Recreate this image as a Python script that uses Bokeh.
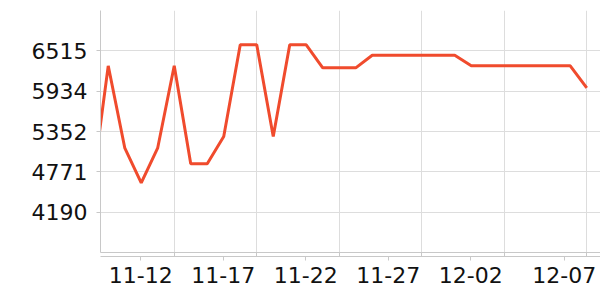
import pandas as pd
from bokeh.plotting import figure
from bokeh.models import Range1d, FixedTicker, ColumnDataSource, DatetimeAxis
from bokeh.embed import file_html
from bokeh.resources import INLINE

dates = list(pd.date_range("2023-11-07", "2023-12-07", freq="D"))
values = [4500, 6299, 5118, 4613, 5118, 6299, 4887, 4887, 5280, 6602,
          6602, 5280, 6602, 6602, 6270, 6270, 6270, 6452, 6452, 6452,
          6452, 6452, 6452, 6299, 6299, 6299, 6299, 6299, 6299, 6299,
          5982]
y_ticks = [4190, 4771, 5352, 5934, 6515]
x_tick_dates = ["2023-11-12", "2023-11-17", "2023-11-22", "2023-11-27", "2023-12-02", "2023-12-07"]
x_tick_labels = ["11-12", "11-17", "11-22", "11-27", "12-02", "12-07"]

x_start = pd.Timestamp("2023-11-07 12:45")
x_end = pd.Timestamp("2023-12-07 20:00")

def ms(t):
    return int(pd.Timestamp(t).value // 1_000_000)

src = ColumnDataSource(dict(x=dates, y=values))

p = figure(width=600, height=300, x_axis_type="datetime",
           x_range=Range1d(x_start, x_end), y_range=Range1d(3608.75, 7096.25),
           output_backend="svg", toolbar_location=None,
           min_border_left=100, min_border_right=0, min_border_top=10,
           min_border_bottom=48)
p.outline_line_color = None
p.background_fill_color = "white"
p.border_fill_color = "white"

p.line("x", "y", source=src, line_color="#f04b2d", line_width=3)

# true tick positions inside the range (grid + tick marks)
tick_ms = [ms(d) for d in x_tick_dates if ms(d) < ms(x_end) - 12 * 3600_000]
p.xaxis.ticker = FixedTicker(ticks=tick_ms)
p.xgrid.ticker = FixedTicker(ticks=tick_ms)
p.xaxis.major_label_text_color = None
p.xaxis.major_label_standoff = 0

# labels: right edge at the tick; the last one right-aligned to the frame end
half_label = pd.Timedelta(days=2.03)
anchors = [pd.Timestamp(d) for d in x_tick_dates[:-1]] + [x_end - pd.Timedelta(hours=4)]
label_pos = [ms(a - half_label) for a in anchors]
lab_axis = DatetimeAxis(ticker=FixedTicker(ticks=label_pos),
                        major_label_overrides={k: v for k, v in zip(label_pos, x_tick_labels)})
lab_axis.axis_line_color = None
lab_axis.major_tick_line_color = None
lab_axis.minor_tick_line_color = None
lab_axis.major_tick_out = 0
lab_axis.major_tick_in = 0
lab_axis.major_label_text_font = "DejaVu Sans"
lab_axis.major_label_text_font_size = "22px"
lab_axis.major_label_text_color = "#111111"
lab_axis.major_label_standoff = 6
p.add_layout(lab_axis, "below")

p.yaxis.ticker = FixedTicker(ticks=y_ticks)

for ax in (p.xaxis, p.yaxis):
    ax.axis_line_color = "#c8c8c8"
    ax.major_tick_line_color = "#c8c8c8"
    ax.major_tick_in = 0
    ax.major_tick_out = 4
    ax.minor_tick_line_color = None
    ax.major_label_text_font = "DejaVu Sans"

p.yaxis.major_label_text_font_size = "22px"
p.yaxis.major_label_text_color = "#111111"
p.yaxis.major_label_standoff = 9

p.xgrid.grid_line_color = "#dddddd"
p.ygrid.grid_line_color = "#dddddd"

open("out.html", "w").write(file_html(p, INLINE))
